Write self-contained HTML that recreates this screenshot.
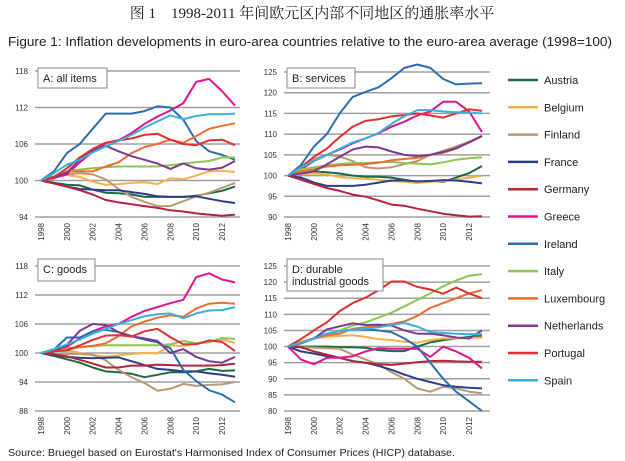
<!DOCTYPE html>
<html><head><meta charset="utf-8"><style>
html,body{margin:0;padding:0;background:#fff;}
svg{display:block;font-family:"Liberation Sans","Noto Sans CJK SC",sans-serif;}
</style></head><body>
<svg id="c" width="625" height="461" viewBox="0 0 625 461">
<text x="312" y="18" text-anchor="middle" font-family="'Liberation Serif','Noto Serif CJK SC',serif" font-size="15" fill="#222">图 1　1998-2011 年间欧元区内部不同地区的通胀率水平</text>
<text x="8" y="46" font-size="13" fill="#222" textLength="604" lengthAdjust="spacingAndGlyphs">Figure 1: Inflation developments in euro-area countries relative to the euro-area average (1998=100)</text>
<text x="8" y="456" font-size="10" fill="#222" textLength="447" lengthAdjust="spacingAndGlyphs">Source: Bruegel based on Eurostat's Harmonised Index of Consumer Prices (HICP) database.</text>
</svg>
<script>
const years=[1998,1999,2000,2001,2002,2003,2004,2005,2006,2007,2008,2009,2010,2011,2012,2013];
const yearLabels=[1998,2000,2002,2004,2006,2008,2010,2012];
const countries=["Austria","Belgium","Finland","France","Germany","Greece","Ireland","Italy","Luxembourg","Netherlands","Portugal","Spain"];
const colors=["#1a6a45","#f5b04a","#b99a74","#2c3e8a","#b3253a","#e0158e","#2d6fae","#8cc653","#ee6c2f","#7b3a93","#e03030","#3ab0dc"];
const ticksA=[94,100,106,112,118];
const ticksB=[90,95,100,105,110,115,120,125];
const ticksC=[88,94,100,106,112,118];
const ticksD=[80,85,90,95,100,105,110,115,120,125];
const seriesA=[
[100,99.6,99.3,99.2,98.5,98.0,97.9,97.7,97.3,97.3,97.3,97.3,97.5,97.9,98.3,99.0],
[100,100.5,100.9,100.6,99.8,99.3,99.4,99.6,99.7,99.4,100.4,100.2,100.8,101.5,101.6,101.4],
[100,100.6,101,101.2,101,100.2,98.6,97.3,96.5,95.8,95.8,96.6,97.4,98,98.8,99.6],
[100,99.6,99,98.6,98.5,98.4,98.4,98.1,97.8,97.4,97.3,97.3,97.4,97,96.6,96.3],
[100,99.5,99,98.4,97.7,96.8,96.4,96.1,95.8,95.5,95.1,94.9,94.6,94.4,94.2,94.4],
[100,100.4,101,103,104.7,106.2,106.6,107.8,109.3,110.5,111.5,112.7,116.2,116.7,114.7,112.3],
[100,101.5,104.5,106,108.5,111,111,111,111.4,112.2,112,110,106.5,104.8,104.2,103.4],
[100,100.7,101.5,101.8,102,102.2,102.3,102.3,102.3,102.3,102.5,102.8,103,103.2,103.8,103.8],
[100,100.5,101.5,101.5,101.5,102.3,103,104.5,105.5,106,106.7,106.2,107.3,108.5,109,109.4],
[100,100.5,101.3,103.4,105,105.7,104.8,104,103.4,102.8,101.9,102.8,102,101.8,102.1,103.2],
[100,100.6,102,103.8,105.2,106.2,106.6,106.9,107.5,107.7,106.7,106,105.8,106.6,106.7,105.8],
[100,101.2,102.6,103.4,104.6,105.6,106.5,107.5,108.7,109.7,110.7,110.1,110.6,110.9,110.9,111.0]];
const seriesB=[
[100,100.3,101,100.8,100.5,100,99.7,99.7,99.5,99,98.5,98.7,98.5,99.5,100.6,102.3],
[100,100.3,100.5,100.3,99.6,99.4,99.2,99,98.7,98.5,98.2,98.5,98.7,99,99.5,100],
[100,102,104,105,104.6,103.5,102,101.7,102,102.8,103.5,105,106,107,108.2,109.5],
[100,99.5,98.3,97.5,97.5,97.5,97.8,98.3,98.8,98.8,98.6,98.7,98.9,98.8,98.5,98.1],
[100,99,98,97,96.3,95.4,94.9,94,93,92.7,92,91.4,90.8,90.4,90.1,90.2],
[100,101.5,103.5,105,106.3,107.8,109,110.2,111.8,113,114.5,115.5,117.8,117.8,115.5,110.5],
[100,102.5,107,110,115,119,120.2,121.3,123.5,126,126.8,126,123.3,122,122.2,122.3],
[100,101.5,102,102.5,102.8,103,103,103.2,103.3,103,102.9,102.7,103.2,103.8,104.2,104.4],
[100,101,101.5,102.2,102.5,102.6,102.8,103.1,103.7,104,104.3,105,105.5,106.5,108,109.5],
[100,100.5,101,102.7,104.5,106.3,107,106.8,105.8,105,104.7,105,105.7,106.6,108,109.6],
[100,102,104.5,106.5,109.3,111.8,113.2,113.6,114.3,114.6,115,114.5,114,115,116,115.6],
[100,102,103.5,105,106.5,108,109,110.3,112.5,114.3,115.8,115.8,115.5,115.3,115.2,115]];
const seriesC=[
[100,99.4,98.7,98,97,96.2,96,95.7,95,95.5,96,96,96.2,96.7,96.3,96.4],
[100,100.4,100.6,100,99.6,99.2,99.5,99.8,100,99.9,101.6,101.4,102,102.4,102.8,102.1],
[100,99.8,99.8,99.8,99.6,98.5,96.5,95,93.8,92.2,92.6,93.6,93.2,93.4,93.5,94],
[100,99.6,99.2,99,98.9,99,99.1,98.3,97.5,96.7,96.5,96.2,96.2,95.8,95.5,95.1],
[100,99.7,99.3,98.6,97.8,97,97,97.4,97.4,97.6,97.5,97.4,97.4,97.4,97.5,97.8],
[100,100.6,101.3,103,104.5,105.5,106,107.5,108.7,109.5,110.3,111,115.7,116.5,115.2,114.6],
[100,100.7,103.2,103.2,104.5,104.8,104.3,103.5,102.8,102.2,101,96.5,94.2,92.3,91.4,89.8],
[100,100.7,100.8,101.2,101.4,101.6,101.6,101.6,101.6,101.6,101.8,102.5,102,102.2,103.1,102.9],
[100,100.6,101,101.2,101.5,102,103.5,105.5,106.5,107.3,107.8,107.5,109.2,110.2,110.4,110.2],
[100,100.3,101.7,104.6,106,105.8,104.3,103.5,103,102.5,100,100.8,99.2,98.3,98,99.2],
[100,100.4,100.5,101.6,102.7,103.6,103.7,103.4,104.5,105,103.3,101.8,101.8,102.6,102.3,100.4],
[100,100.8,101.8,102.8,104,105,106,106.8,107.6,108,108.2,107.2,108.2,108.8,108.9,109.5]];
const seriesD=[
[100,100,100,100,99.8,99.8,99.6,98.9,98.6,98.6,100,101.3,102,102.5,103,103.3],
[100,101.5,102.5,103,103.3,103.5,103,102.3,102,101.5,101.2,102,102.5,102.5,102.7,102.8],
[100,99.8,99.6,99.5,99.3,97.5,96,94.5,92,90,87,86,87.5,87,86,85.5],
[100,98.5,97.8,97,96.5,95.5,95,94,92.8,91.3,90,89,88,87.5,87.2,87],
[100,99.8,98.5,97.5,96.5,95.5,95,94.5,94.3,94.7,95.1,95.5,95.6,95.4,95.3,95.3],
[100,96,94.5,96.5,96.5,97,98.5,99.5,99.3,99.3,99.3,96.8,100,98.5,96.5,93.2],
[100,101,102.5,104,104.8,105.3,105.3,105,104.5,102.5,100,95,90,86,83,80],
[100,101,102.5,103.5,105,106.5,107.5,109,110.5,112.5,114.5,116.5,118.7,120.5,122,122.5],
[100,101.2,102.5,103.5,104,105.5,106,106.5,107,107.8,109.5,112,113.5,115,116.5,117.5],
[100,101,102.5,105.3,106.3,107.2,106.7,106.8,106.5,105,104,104,103.5,102.8,102.5,105],
[100,102.3,105,107.5,111,113.5,115.2,117.5,120.2,120.2,118.5,117.7,116.4,118.3,116.5,115],
[100,101.2,102.4,104,104.8,105.2,105.5,106,106.7,107.3,106.2,104.5,104.2,104,103.8,103.8]];

const NS="http://www.w3.org/2000/svg";
const svg=document.getElementById('c');
function mk(t,a,p){const e=document.createElementNS(NS,t);for(const k in a)e.setAttribute(k,a[k]);(p||svg).appendChild(e);return e;}

const panels=[
 {key:'a',title:['A: all items'],data:seriesA,ticks:ticksA,xs:41,xe:235,gx0:35,gx1:240,lx:28,ymin:94,ymax:118,yb:217,yt:71,box:[38,68,69,20]},
 {key:'b',title:['B: services'],data:seriesB,ticks:ticksB,xs:288,xe:482,gx0:284,gx1:490,lx:277,ymin:90,ymax:125,yb:217,yt:72,box:[287,68,68,20]},
 {key:'c',title:['C: goods'],data:seriesC,ticks:ticksC,xs:41,xe:235,gx0:35,gx1:240,lx:28,ymin:88,ymax:118,yb:411,yt:266,box:[38,259,57,22]},
 {key:'d',title:['D: durable','industrial goods'],data:seriesD,ticks:ticksD,xs:288,xe:482,gx0:284,gx1:490,lx:277,ymin:80,ymax:125,yb:411,yt:266,box:[287,259,96,32]}
];
panels.forEach(p=>{
 const g=mk('g',{});
 
 
 const xS=i=>p.xs+(p.xe-p.xs)*i/(years.length-1);
 const yS=v=>p.yb-(v-p.ymin)*(p.yb-p.yt)/(p.ymax-p.ymin);
 p.ticks.forEach(t=>{
  const l=mk('line',{x1:p.gx0,x2:p.gx1,y1:yS(t),y2:yS(t),stroke:'#a0a0a0','stroke-width':1.5},g);
  
  
  const tx=mk('text',{x:p.lx,y:yS(t)+3,'text-anchor':'end','font-size':8,fill:'#333'},g);
  tx.textContent=t;
  
  
 });
 yearLabels.forEach(y=>{
  const i=years.indexOf(y);const x=xS(i)+3;const y0=p.yb+6;
  const tx=mk('text',{x:x,y:y0,'text-anchor':'end','font-size':8,fill:'#333',transform:`rotate(-90 ${x} ${y0})`},g);
  tx.textContent=y;
  
  
 });
 p.data.forEach((s,ci)=>{
  const d=s.map((v,i)=>(i?'L':'M')+xS(i).toFixed(1)+' '+yS(v).toFixed(1)).join(' ');
  const path=mk('path',{d:d,fill:'none',stroke:colors[ci],'stroke-width':2,'stroke-linejoin':'round'},g);
  
  
 });
 const b=p.box;
 const r=mk('rect',{x:b[0],y:b[1],width:b[2],height:b[3],fill:'#fff',stroke:'#888','stroke-width':1},g);
 
 
 p.title.forEach((t,k)=>{
  const tx=mk('text',{x:b[0]+5,y:b[1]+14+k*12,'font-size':11,fill:'#222'},g);
  tx.textContent=t;
  
  
 });
});
const lg=mk('g',{});


countries.forEach((c,i)=>{
 const y=80+i*27.3;
 const l=mk('line',{x1:508,x2:538,y1:y,y2:y,stroke:colors[i],'stroke-width':2.5},lg);
 
 
 const t=mk('text',{x:544,y:y+4,'font-size':11,fill:'#222'},lg);
 t.textContent=c;
 
 
});
</script>
</body></html>
